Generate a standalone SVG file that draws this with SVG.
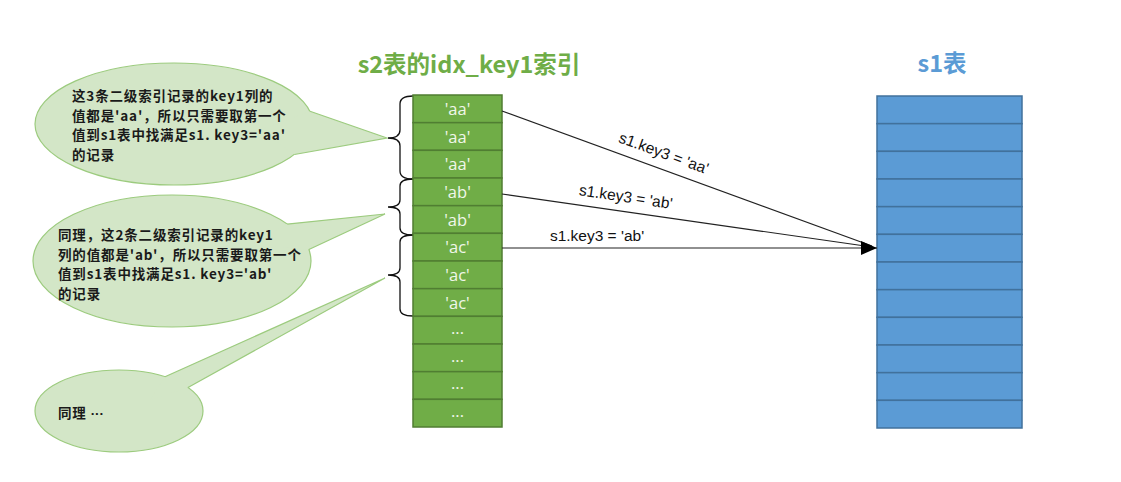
<svg xmlns="http://www.w3.org/2000/svg" width="1121" height="482" viewBox="0 0 1121 482">
<defs>
<style>
.gcell{fill:#70AD47;stroke:#507E32;stroke-width:1.5}
.bcell{fill:#5B9BD5;stroke:#41719C;stroke-width:1.5}
.gtxt{font-family:"Open Sans","Liberation Sans",sans-serif;font-size:16.5px;fill:#F0F7EA;text-anchor:middle}
.bub{fill:#D3E6C7;stroke:#9CCB7E;stroke-width:1.2}
.bubfill{fill:#D3E6C7;stroke:none}
.bubedge{fill:none;stroke:#9CCB7E;stroke-width:1.2}
.ctxt{font-family:"Noto Sans CJK SC","Liberation Sans",sans-serif;font-size:13.5px;font-weight:bold;fill:#1a1a1a;letter-spacing:0.85px}
.brace{fill:none;stroke:#111;stroke-width:1.3}
.conn{fill:none;stroke:#222;stroke-width:1.2}
.clab{font-family:"Liberation Sans","Noto Sans",sans-serif;font-size:15.5px;fill:#111;text-anchor:middle}
.title{font-family:"Noto Sans CJK SC","Liberation Sans",sans-serif;font-size:23.5px;font-weight:bold;text-anchor:middle}
</style>
<marker id="arr" viewBox="0 0 16 14" refX="16" refY="7" markerWidth="16" markerHeight="14" markerUnits="userSpaceOnUse" orient="auto">
<path d="M0,0 L16,7 L0,14 Z" fill="#000"/>
</marker>
</defs>
<rect width="1121" height="482" fill="#fff"/>

<g id="title-s2"><text class="title" x="469" y="73" fill="#6FAD47">s2表的idx_key1索引</text></g>
<g id="title-s1"><text class="title" x="942" y="72" fill="#5B9BD5">s1表</text></g>

<g id="callout1">
<ellipse class="bub" cx="174" cy="124" rx="139" ry="61"/>
<polygon class="bubfill" points="310,111.3 387,138 294.4,154.5 260,130"/>
<polyline class="bubedge" points="310,111.3 387,138 294.4,154.5"/>
<text class="ctxt" x="72" y="101">这3条二级索引记录的key1列的</text>
<text class="ctxt" x="72" y="120.5">值都是'aa'，所以只需要取第一个</text>
<text class="ctxt" x="72" y="140">值到s1表中找满足s1. key3='aa'</text>
<text class="ctxt" x="72" y="159.5">的记录</text>
</g>

<g id="callout2">
<ellipse class="bub" cx="172" cy="261" rx="139" ry="66"/>
<polygon class="bubfill" points="287.2,224.1 385,214 308.9,249.5 250,245"/>
<polyline class="bubedge" points="287.2,224.1 385,214 308.9,249.5"/>
<text class="ctxt" x="58" y="240">同理，这2条二级索引记录的key1</text>
<text class="ctxt" x="58" y="259.5">列的值都是'ab'，所以只需要取第一个</text>
<text class="ctxt" x="58" y="279">值到s1表中找满足s1. key3='ab'</text>
<text class="ctxt" x="58" y="298.5">的记录</text>
</g>

<g id="callout3">
<ellipse class="bub" cx="119" cy="411" rx="84" ry="41"/>
<polygon class="bubfill" points="165,376.7 385,278 188,387.6 150,400"/>
<polyline class="bubedge" points="165,376.7 385,278 188,387.6"/>
<text class="ctxt" x="58" y="418">同理 <tspan font-family="Liberation Sans" letter-spacing="0">···</tspan></text>
</g>

<g id="braces">
<path class="brace" d="M413,96 Q400,96 400,104 L400,130 Q400,138 388,138 Q400,138 400,146 L400,171 Q400,179 413,179"/>
<path class="brace" d="M413,179 Q400,179 400,186 L400,200 Q400,207 388,207 Q400,207 400,214 L400,228 Q400,235 413,235"/>
<path class="brace" d="M413,235 Q400,235 400,242 L400,268 Q400,275 388,275 Q400,275 400,282 L400,309 Q400,316 413,316"/>
</g>

<g id="s2-index">
<rect class="gcell" x="413" y="95" width="89" height="27.67"/>
<rect class="gcell" x="413" y="122.67" width="89" height="27.67"/>
<rect class="gcell" x="413" y="150.33" width="89" height="27.67"/>
<rect class="gcell" x="413" y="178" width="89" height="27.67"/>
<rect class="gcell" x="413" y="205.67" width="89" height="27.67"/>
<rect class="gcell" x="413" y="233.33" width="89" height="27.67"/>
<rect class="gcell" x="413" y="261" width="89" height="27.67"/>
<rect class="gcell" x="413" y="288.67" width="89" height="27.67"/>
<rect class="gcell" x="413" y="316.33" width="89" height="27.67"/>
<rect class="gcell" x="413" y="344" width="89" height="27.67"/>
<rect class="gcell" x="413" y="371.67" width="89" height="27.67"/>
<rect class="gcell" x="413" y="399.33" width="89" height="27.67"/>
<text class="gtxt" x="457.5" y="115">'aa'</text>
<text class="gtxt" x="457.5" y="142.5">'aa'</text>
<text class="gtxt" x="457.5" y="170">'aa'</text>
<text class="gtxt" x="457.5" y="198">'ab'</text>
<text class="gtxt" x="457.5" y="225.5">'ab'</text>
<text class="gtxt" x="457.5" y="253">'ac'</text>
<text class="gtxt" x="457.5" y="281">'ac'</text>
<text class="gtxt" x="457.5" y="308.5">'ac'</text>
<text class="gtxt" x="457.5" y="334">...</text>
<text class="gtxt" x="457.5" y="361.5">...</text>
<text class="gtxt" x="457.5" y="389">...</text>
<text class="gtxt" x="457.5" y="417">...</text>
</g>

<g id="s1-table">
<rect class="bcell" x="877" y="96" width="145" height="27.67"/>
<rect class="bcell" x="877" y="123.67" width="145" height="27.67"/>
<rect class="bcell" x="877" y="151.33" width="145" height="27.67"/>
<rect class="bcell" x="877" y="179" width="145" height="27.67"/>
<rect class="bcell" x="877" y="206.67" width="145" height="27.67"/>
<rect class="bcell" x="877" y="234.33" width="145" height="27.67"/>
<rect class="bcell" x="877" y="262" width="145" height="27.67"/>
<rect class="bcell" x="877" y="289.67" width="145" height="27.67"/>
<rect class="bcell" x="877" y="317.33" width="145" height="27.67"/>
<rect class="bcell" x="877" y="345" width="145" height="27.67"/>
<rect class="bcell" x="877" y="372.67" width="145" height="27.67"/>
<rect class="bcell" x="877" y="400.33" width="145" height="27.67"/>
</g>

<g id="connectors">
<line class="conn" x1="502" y1="111" x2="872" y2="246"/>
<line class="conn" x1="502" y1="194" x2="872" y2="247"/>
<line class="conn" x1="502" y1="248" x2="877" y2="248" marker-end="url(#arr)"/>
<text class="clab" transform="translate(662,158) rotate(20)">s1.key3 = 'aa'</text>
<text class="clab" transform="translate(625,202) rotate(8.5)">s1.key3 = 'ab'</text>
<text class="clab" x="597" y="241">s1.key3 = 'ab'</text>
</g>
</svg>
